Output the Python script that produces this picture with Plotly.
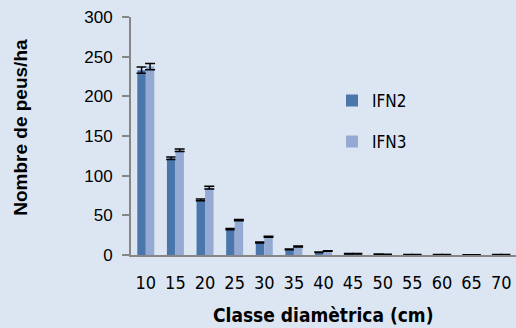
import plotly.graph_objects as go

# Diameter classes (cm)
classes = ["10", "15", "20", "25", "30", "35", "40", "45", "50", "55", "60", "65", "70"]

# Trees per hectare by inventory
ifn2 = [233, 122, 69.5, 32.5, 15.7, 7, 3.5, 1.5, 1.0, 0.5, 0.4, 0.3, 0.5]
ifn3 = [237.5, 132, 85, 44, 23, 10.7, 5, 1.5, 0.8, 0.5, 0.4, 0.3, 0.6]

# Standard errors
ifn2_err = [4, 1.5, 1.2, 0.8, 0.6, 0.5, 0.4, 0.3, 0.2, 0.2, 0.1, 0.1, 0.1]
ifn3_err = [4, 1.5, 1.8, 0.8, 0.6, 0.5, 0.4, 0.3, 0.2, 0.2, 0.1, 0.1, 0.1]

y_ticks = [0, 50, 100, 150, 200, 250, 300]

BG = "#DCE6F2"
AXIS = "#868686"
C2 = "#4A76AC"
C3 = "#95AAD3"
NARROW = "DejaVu Sans Condensed, Liberation Sans, sans-serif"

fig = go.Figure()
fig.add_trace(go.Bar(
    x=classes, y=ifn2, name="IFN2", legendgroup="a",
    marker=dict(color=C2, line=dict(width=0)),
    error_y=dict(type="data", array=ifn2_err, color="black", thickness=1.5, width=5),
))
fig.add_trace(go.Bar(
    x=classes, y=ifn3, name="IFN3", legendgroup="b",
    marker=dict(color=C3, line=dict(width=0)),
    error_y=dict(type="data", array=ifn3_err, color="black", thickness=1.5, width=5),
))

L, R, T, B = 131, 0, 17, 72.5
plot_w = 516 - L - R
plot_h = 328 - T - B

fig.update_layout(
    width=516, height=328,
    margin=dict(l=L, r=R, t=T, b=B),
    paper_bgcolor=BG, plot_bgcolor=BG,
    barmode="group", bargap=0.426, bargroupgap=0,
    font=dict(family="Liberation Sans, Arial, sans-serif", color="black"),
    showlegend=True,
    legend=dict(
        x=(332 - L) / plot_w, y=(255.5 - 83) / plot_h, xanchor="left", yanchor="top",
        bgcolor="rgba(0,0,0,0)", borderwidth=0,
        font=dict(family=NARROW, size=17),
        tracegroupgap=16, traceorder="grouped",
    ),
    xaxis=dict(
        type="category", showgrid=False, showline=True, linecolor=AXIS, linewidth=2,
        ticks="", tickfont=dict(family=NARROW, size=18),
        ticklabelstandoff=10,
    ),
    yaxis=dict(
        range=[0, 300], tickvals=y_ticks, showgrid=False, zeroline=False,
        showline=True, linecolor=AXIS, linewidth=2,
        ticks="outside", ticklen=7, tickwidth=2, tickcolor=AXIS,
        tickfont=dict(family="Liberation Sans, Arial, sans-serif", size=17),
        ticklabelstandoff=6,
    ),
    annotations=[
        dict(text="<b>Classe diamètrica (cm)</b>",
             x=(323 - L) / plot_w, y=(255.5 - 316) / plot_h,
             xref="paper", yref="paper", showarrow=False,
             xanchor="center", yanchor="middle",
             font=dict(family=NARROW, size=19)),
        dict(text="<b>Nombre de peus/ha</b>", textangle=-90,
             x=(21 - L) / plot_w, y=(255.5 - 128) / plot_h,
             xref="paper", yref="paper", showarrow=False,
             xanchor="center", yanchor="middle",
             font=dict(family="Liberation Sans, Arial, sans-serif", size=19)),
    ],
)

fig.write_html("out.html")
